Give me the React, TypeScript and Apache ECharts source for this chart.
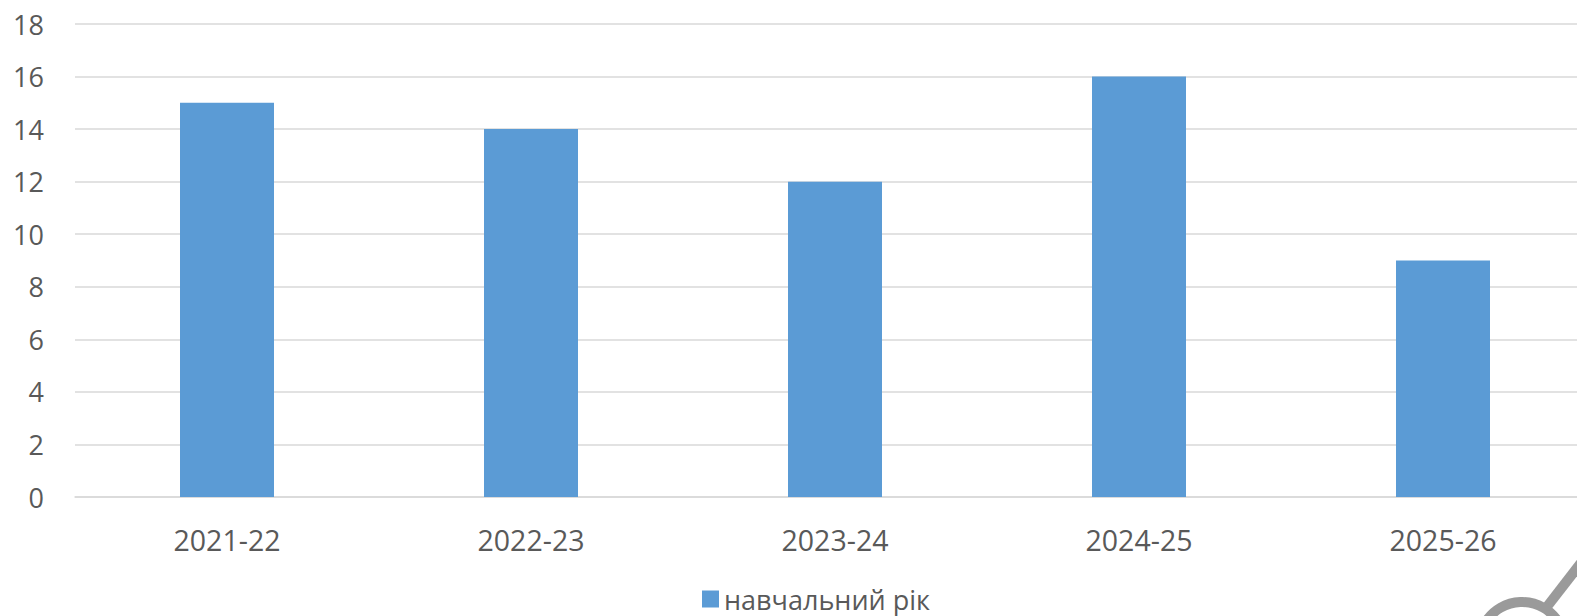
import React, { useEffect, useRef } from "react";
import * as echarts from "echarts";

const categories = ["2021-22", "2022-23", "2023-24", "2024-25", "2025-26"];
const values = [15, 14, 12, 16, 9];
const seriesName = "навчальний рік";
const yMin = 0;
const yMax = 18;
const yStep = 2;

export default function App() {
  const ref = useRef<HTMLDivElement>(null);
  useEffect(() => {
    document.body.style.margin = "0";
    if (!ref.current) return;
    const chart = echarts.init(ref.current, undefined, { renderer: "svg" });
    const font = "'Open Sans', sans-serif";
    chart.setOption({
      animation: false,
      backgroundColor: "#ffffff",
      grid: { left: 75, top: 24, width: 1520, height: 473, containLabel: false },
      legend: {
        data: [seriesName],
        left: 697,
        top: 580,
        icon: "rect",
        itemWidth: 17,
        itemHeight: 17,
        itemGap: 8,
        textStyle: { fontFamily: font, fontSize: 27, color: "#595959", lineHeight: 28 },
      },
      xAxis: {
        type: "category",
        data: categories,
        axisLine: { show: true, lineStyle: { color: "#d9d9d9", width: 1.5 } },
        axisTick: { show: false },
        axisLabel: { fontFamily: font, fontSize: 28.5, color: "#595959", margin: 28 },
      },
      yAxis: {
        type: "value",
        min: yMin,
        max: yMax,
        interval: yStep,
        axisLine: { show: false },
        axisTick: { show: false },
        splitLine: { lineStyle: { color: "#d9d9d9", width: 1.5 } },
        axisLabel: { fontFamily: font, fontSize: 27, color: "#595959", margin: 31 },
      },
      series: [
        {
          name: seriesName,
          type: "bar",
          data: values,
          barWidth: 94,
          itemStyle: { color: "#5b9bd5" },
        },
      ],
      graphic: [
        {
          type: "line",
          shape: { x1: 1584, y1: 559, x2: 1546, y2: 608 },
          style: { stroke: "#9a9a9a", lineWidth: 10 },
          silent: true,
        },
        {
          type: "circle",
          shape: { cx: 1522, cy: 645, r: 43 },
          style: { stroke: "#9a9a9a", lineWidth: 10, fill: "none" },
          silent: true,
        },
      ],
    });
    return () => chart.dispose();
  }, []);
  return (
    <div style={{ width: 1577, height: 616, overflow: "hidden", position: "relative" }}>
      <div ref={ref} style={{ width: 1600, height: 616 }} />
    </div>
  );
}
